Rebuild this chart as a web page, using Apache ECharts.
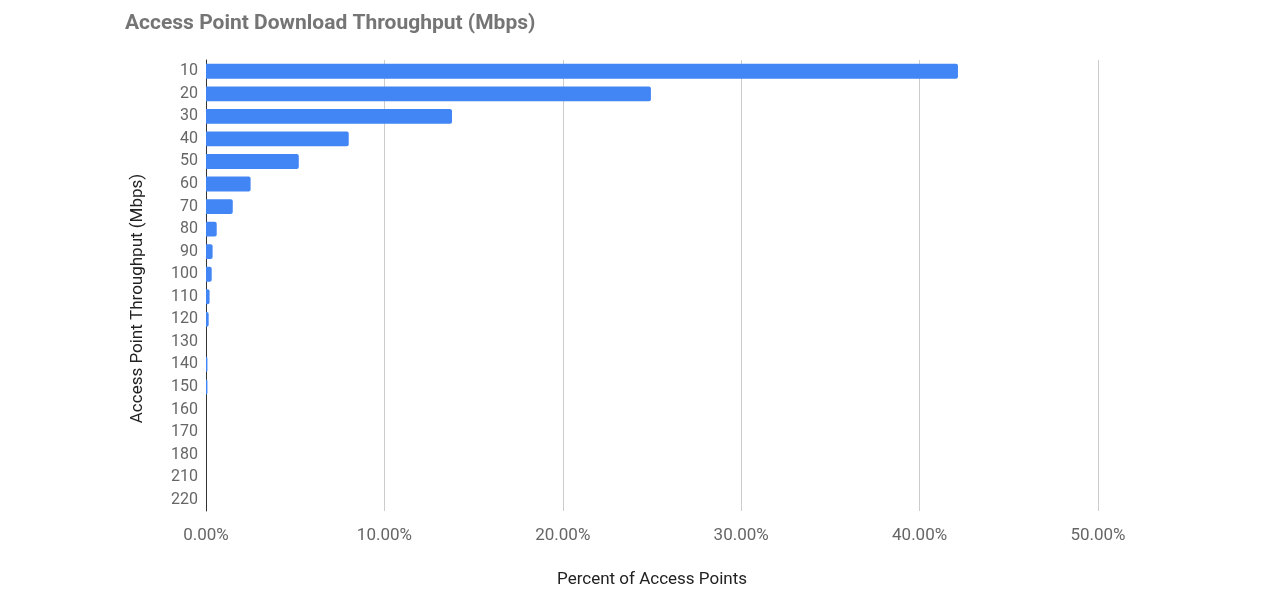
<!DOCTYPE html>
<html>
<head>
<meta charset="utf-8">
<script src="https://cdn.jsdelivr.net/npm/echarts@6/dist/echarts.min.js"></script>
<style>
  html, body { margin: 0; padding: 0; background: #fff; }
  #chart { width: 1280px; height: 600px; }
</style>
</head>
<body>
<div id="chart"></div>
<script>
// 数据
var throughput = ['10', '20', '30', '40', '50', '60', '70', '80', '90', '100',
    '110', '120', '130', '140', '150', '160', '170', '180', '210', '220'];
var percentAPs = [42.15, 24.94, 13.79, 8.0, 5.2, 2.5, 1.5, 0.6, 0.37, 0.32,
    0.2, 0.15, 0, 0.08, 0.08, 0, 0, 0, 0, 0];

var myChart = echarts.init(document.getElementById('chart'));

var option = {
    title: {
        text: 'Access Point Download Throughput (Mbps)',
        left: 120,
        top: 8,
        textStyle: {
            fontFamily: 'Roboto',
            fontSize: 21,
            fontWeight: 'bold',
            color: '#757575'
        }
    },
    grid: {
        left: 206,
        right: 182,
        top: 60,
        bottom: 89,
        containLabel: false
    },
    xAxis: {
        type: 'value',
        min: 0,
        max: 50,
        interval: 10,
        name: 'Percent of Access Points',
        nameLocation: 'middle',
        nameGap: 60,
        nameTextStyle: { fontFamily: 'Roboto', fontSize: 17, color: '#222' },
        axisLine: { show: false },
        axisTick: { show: false },
        axisLabel: {
            formatter: function (v) { return v.toFixed(2) + '%'; },
            fontFamily: 'Roboto',
            fontSize: 17,
            color: '#666',
            margin: 16
        },
        splitLine: { lineStyle: { color: '#ccc' } }
    },
    yAxis: {
        type: 'category',
        data: throughput,
        inverse: true,
        name: 'Access Point Throughput (Mbps)',
        nameLocation: 'middle',
        nameRotate: 90,
        nameGap: 60,
        nameTextStyle: {
            fontFamily: 'Roboto', fontSize: 17, color: '#222',
            padding: [0, 26, 0, 0]
        },
        axisLine: { lineStyle: { color: '#333', width: 1 } },
        axisTick: { show: false },
        axisLabel: {
            fontFamily: 'Roboto',
            fontSize: 16,
            color: '#666',
            margin: 8
        }
    },
    series: [{
        name: 'Percent of Access Points',
        type: 'bar',
        data: percentAPs,
        barCategoryGap: '34%',
        itemStyle: {
            color: '#4285f4',
            borderRadius: [0, 2, 2, 0]
        }
    }]
};

myChart.setOption(option);
</script>
</body>
</html>
